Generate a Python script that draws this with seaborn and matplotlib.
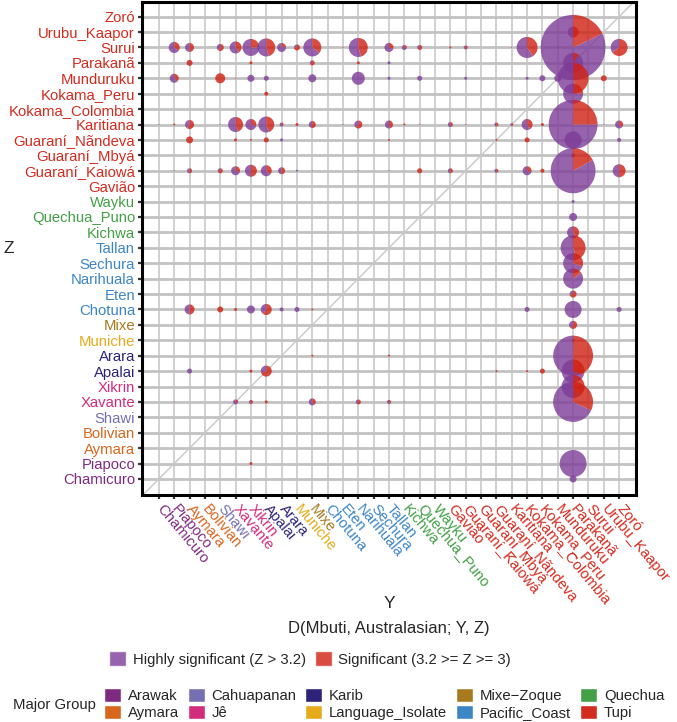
import matplotlib
matplotlib.use('Agg')
import matplotlib.pyplot as plt
from matplotlib.patches import Wedge, Patch
import seaborn as sns

# populations in axis order (bottom -> top on Z, left -> right on Y)
populations = ['Chamicuro', 'Piapoco', 'Aymara', 'Bolivian', 'Shawi', 'Xavante', 'Xikrin',
               'Apalai', 'Arara', 'Muniche', 'Mixe', 'Chotuna', 'Eten', 'Narihuala', 'Sechura',
               'Tallan', 'Kichwa', 'Quechua_Puno', 'Wayku', 'Gavião', 'Guaraní_Kaiowá',
               'Guaraní_Mbyá', 'Guaraní_Nãndeva', 'Karitiana', 'Kokama_Colombia', 'Kokama_Peru',
               'Munduruku', 'Parakanã', 'Surui', 'Urubu_Kaapor', 'Zoró']
pop_group = ['Arawak', 'Arawak', 'Aymara', 'Aymara', 'Cahuapanan', 'Jê', 'Jê',
             'Karib', 'Karib', 'Language_Isolate', 'Mixe−Zoque', 'Pacific_Coast', 'Pacific_Coast',
             'Pacific_Coast', 'Pacific_Coast', 'Pacific_Coast', 'Quechua', 'Quechua', 'Quechua',
             'Tupi', 'Tupi', 'Tupi', 'Tupi', 'Tupi', 'Tupi', 'Tupi', 'Tupi', 'Tupi', 'Tupi',
             'Tupi', 'Tupi']
groups = ['Arawak', 'Aymara', 'Cahuapanan', 'Jê', 'Karib', 'Language_Isolate',
          'Mixe−Zoque', 'Pacific_Coast', 'Quechua', 'Tupi']
group_colors = ['#7F2A81', '#D9661F', '#7570B3', '#D22D7D', '#2D2479', '#E6AB1A',
                '#A87A1F', '#3C86C6', '#43A047', '#D42B1F']

# significant D statistics per (Y, Z) cell: total count and share that is only "significant"
pie_z = ([28] * 21 + [29] + [27] * 6 + [26] * 16 + [25] * 2 + [23] * 24 + [22] * 10 + [21]
         + [20] * 18 + [18] + [17] + [16] * 2 + [15] + [14] + [13] + [12] + [11] * 12 + [10]
         + [9] + [8] * 3 + [7] * 7 + [6] + [5] * 9 + [1] * 2 + [0])
pie_y = [1, 2, 4, 5, 6, 7, 8, 9, 10, 12, 13, 15, 16, 17, 19, 20, 23, 24, 26, 27, 30,
         27,
         2, 6, 10, 13, 15, 27,
         1, 4, 5, 6, 7, 10, 13, 15, 16, 17, 20, 24, 25, 26, 27, 29,
         7, 27,
         0, 1, 2, 4, 5, 6, 7, 8, 9, 10, 12, 13, 15, 16, 17, 19, 20, 22, 23, 24, 25, 27, 29, 30,
         2, 5, 6, 7, 8, 15, 22, 24, 27, 30,
         27,
         1, 2, 4, 5, 6, 7, 8, 9, 10, 13, 15, 17, 19, 22, 24, 25, 27, 30,
         27, 27, 7, 27, 27, 27, 27, 27,
         2, 4, 5, 6, 7, 8, 9, 10, 16, 24, 27, 30,
         27, 27,
         10, 15, 27,
         2, 6, 7, 22, 24, 25, 27,
         27,
         1, 5, 6, 7, 10, 13, 15, 16, 27,
         6, 27, 27]
pie_n = [11, 9, 7, 12, 17, 18, 9, 6, 18, 1, 19, 9, 5, 5, 2, 4, 1, 21, 2, 65, 17,
         11,
         6, 3, 5, 3, 3, 20,
         9, 10, 1, 7, 5, 8, 13, 3, 1, 5, 3, 3, 6, 7, 31, 6,
         4, 20,
         1, 2, 9, 1, 15, 11, 16, 4, 3, 7, 1, 8, 8, 2, 1, 5, 1, 4, 3, 11, 3, 49, 1, 8,
         7, 3, 2, 5, 3, 2, 2, 5, 17, 4,
         4,
         1, 5, 5, 9, 12, 11, 7, 2, 1, 1, 1, 5, 5, 4, 9, 4, 45, 13,
         3, 8, 1, 12, 25, 20, 20, 7,
         10, 6, 3, 8, 11, 4, 5, 2, 1, 5, 17, 5,
         8, 3,
         2, 2, 40,
         5, 3, 11, 2, 2, 5, 23,
         23,
         1, 5, 4, 3, 7, 5, 4, 1, 40,
         3, 27, 7]
pie_sig = [.35, .5, .6, .4, .25, .45, .2, .75, .35, 1, .45, .3, .3, .6, 1, .5, 1, .4, 1, .18, .65,
           .5,
           1, 1, .7, 1, 0, .1,
           .35, 1, 1, 0, 0, 0, 0, 0, 1, 0, 0, 0, 0, 0, .45, 1,
           1, .25,
           0, 1, .6, 0, .45, .3, .45, .3, 1, .55, 1, .6, .45, 1, 1, .4, 1, .5, .5, .4, 1, .25, 0, .35,
           1, 1, 1, 1, 0, 1, 1, 1, 0, 0,
           1,
           0, .5, .7, .3, .5, .35, .5, 0, 1, 1, 1, 1, .5, .4, .3, 1, .17, .5,
           0, 0, 1, .4, .45, .3, .15, .7,
           .5, 1, 1, 0, .6, 0, 0, 1, 1, 0, 0, 0,
           .6, .7,
           1, 1, .5,
           0, 1, .7, 1, 1, 1, .3,
           .4,
           1, .3, .6, 1, .4, .6, .4, 1, .32,
           1, 0, 0]
assert len(pie_z) == len(pie_y) == len(pie_n) == len(pie_sig)

HIGH_COLOR = '#7D3C98'
SIG_COLOR = '#CF1F12'
R_UNIT = 0.0325  # pie radius per test, in grid cells

sns.set_theme(style='white')
plt.rcParams['font.family'] = ['Liberation Sans', 'DejaVu Sans']

fig = plt.figure(figsize=(6.77, 7.22), dpi=100)
ax = fig.add_axes([142 / 677, 227 / 722, 494 / 677, 493 / 722])

ticks = list(range(len(populations)))
ax.set_xlim(-1.1, 31.1)
ax.set_ylim(-1.04, 30.95)
ax.set_xticks(ticks)
ax.set_yticks(ticks)
ax.set_axisbelow(True)
ax.yaxis.grid(True, color='#C2C2C2', lw=2.0)
ax.xaxis.grid(True, color='#CDCDCD', lw=1.3)
ax.axline((0, 0), slope=1, color='#C8C8C8', lw=1.0, zorder=1.5)

for y, z, n, s in zip(pie_y, pie_z, pie_n, pie_sig):
    r = n * R_UNIT
    if s < 1:
        ax.add_patch(Wedge((y, z), r, 90, 450 - 360 * s, facecolor=HIGH_COLOR,
                           edgecolor='none', alpha=0.8, zorder=3))
    if s > 0:
        ax.add_patch(Wedge((y, z), r, 90 - 360 * s, 90, facecolor=SIG_COLOR,
                           edgecolor='none', alpha=0.8, zorder=3))

gcol = dict(zip(groups, group_colors))
ax.set_yticklabels(populations, fontsize=10.7)
ax.set_xticklabels(populations, fontsize=10.7, rotation=-50, ha='left', va='center',
                   rotation_mode='anchor')
for lab, g in zip(ax.get_yticklabels(), pop_group):
    lab.set_color(gcol[g])
for lab, g in zip(ax.get_xticklabels(), pop_group):
    lab.set_color(gcol[g])
ax.tick_params(axis='both', length=3, width=1.6, color='#333333', pad=2,
               bottom=True, left=True)
ax.tick_params(axis='x', pad=5)
for sp in ax.spines.values():
    sp.set_color('black')
    sp.set_linewidth(2.2)
    sp.set_zorder(5)

fig.text(9 / 677, 1 - 249 / 722, 'Z', ha='center', va='center', fontsize=12.5)
fig.text(389 / 677, 1 - 604 / 722, 'Y', ha='center', va='center', fontsize=12.5)
fig.text(389 / 677, 1 - 628 / 722, 'D(Mbuti, Australasian; Y, Z)', ha='center',
         va='center', fontsize=12)

sig_handles = [Patch(facecolor=HIGH_COLOR, alpha=0.8), Patch(facecolor=SIG_COLOR, alpha=0.8)]
fig.legend(sig_handles, ['Highly significant (Z > 3.2)', 'Significant (3.2 >= Z >= 3)'],
           loc='center', bbox_to_anchor=(310 / 677, 1 - 659 / 722), ncol=2, frameon=False,
           fontsize=10.7, handlelength=1.15, handleheight=1.1, handletextpad=0.45,
           columnspacing=0.6)

grp_handles = [Patch(facecolor=c) for c in group_colors]
fig.legend(grp_handles, groups, loc='center', bbox_to_anchor=(384 / 677, 1 - 704 / 722),
           ncol=5, frameon=False, fontsize=10.7, handlelength=1.15, handleheight=1.1,
           handletextpad=0.45, columnspacing=0.6, labelspacing=0.1)
fig.text(13 / 677, 1 - 705 / 722, 'Major Group', ha='left', va='center', fontsize=10.7)

fig.savefig('out.png', dpi=100)
